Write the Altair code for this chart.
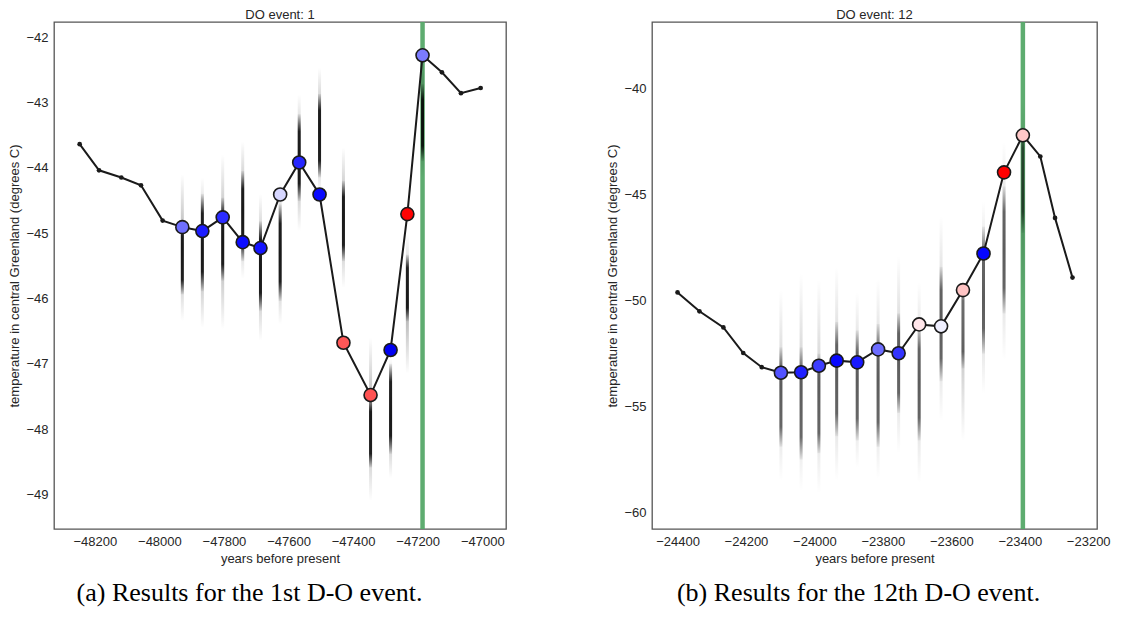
import altair as alt
import pandas as pd

# ---------------- Panel (a): DO event 1 ----------------
years_a = [-48247, -48187, -48118, -48057, -47990, -47929, -47867, -47804, -47742, -47687,
           -47626, -47567, -47504, -47430, -47346, -47284, -47232, -47185, -47125, -47066, -47005]
temps_a = [-43.64, -44.04, -44.15, -44.27, -44.81, -44.91, -44.97, -44.76, -45.14, -45.23,
           -44.41, -43.92, -44.41, -46.68, -47.48, -46.79, -44.71, -42.28, -42.54, -42.86, -42.78]
colors_a = ["", "", "", "", "",
            "#6f6fff", "#1d1dff", "#2b2bff", "#0c0cff", "#1414ff", "#d6d6ff", "#2626ff",
            "#0a0aff", "#ff5757", "#ff5252", "#0000f2", "#ff0303", "#7b7bff",
            "", "", ""]
# posterior sample streaks: x, faint top, dark top, dark bottom, faint bottom
streak_x_a = [-47929, -47867, -47804, -47742, -47687, -47626, -47567, -47504, -47430,
              -47346, -47284, -47232, -47185]
streak_fh_a = [-44.10, -44.15, -43.80, -43.60, -44.40, -44.20, -42.88, -42.47, -43.69,
               -46.60, -46.91, -45.02, -42.30]
streak_dh_a = [-44.82, -44.40, -44.46, -44.05, -44.82, -44.56, -43.18, -42.87, -44.20,
               -47.52, -47.00, -45.33, -42.72]
streak_dl_a = [-45.94, -45.89, -45.73, -45.43, -46.19, -46.04, -44.51, -44.15, -45.43,
               -48.59, -48.38, -46.35, -43.90]
streak_fl_a = [-46.35, -46.45, -46.47, -45.70, -46.65, -46.40, -44.97, -44.40, -45.84,
               -49.10, -48.75, -47.15, -44.15]
event_x_a = [-47185]
xticks_a = [-48200, -48000, -47800, -47600, -47400, -47200, -47000]
yticks_a = [-49, -48, -47, -46, -45, -44, -43, -42]
xdom_a = [-48311, -46942]
ydom_a = [-49.53, -41.77]

# ---------------- Panel (b): DO event 12 ----------------
years_b = [-24400, -24336, -24266, -24208, -24154, -24098, -24039, -23987, -23935, -23875,
           -23814, -23754, -23694, -23630, -23566, -23506, -23446, -23391, -23340, -23297, -23246]
temps_b = [-49.61, -50.50, -51.26, -52.47, -53.14, -53.40, -53.38, -53.07, -52.83, -52.91,
           -52.30, -52.48, -51.12, -51.21, -49.50, -47.77, -43.94, -42.19, -43.19, -46.09, -48.91]
colors_b = ["", "", "", "", "",
            "#5252ff", "#2020ff", "#3d3dff", "#0808ff", "#1a1aff", "#6d6dff", "#3333ff",
            "#ffe6ea", "#efefff", "#ffc4c4", "#0505ff", "#ff0000", "#ffc8c8",
            "", "", ""]
streak_x_b = [-24098, -24039, -23987, -23935, -23875, -23814, -23754, -23694, -23630,
              -23566, -23506, -23446, -23391]
streak_fh_b = [-49.5, -48.7, -49.0, -48.4, -49.6, -49.0, -47.9, -49.1, -46.0, -49.0, -45.3, -42.5, -40.6]
streak_dh_b = [-52.2, -52.2, -52.5, -51.0, -51.4, -51.1, -50.6, -51.2, -48.4, -49.2, -46.5, -44.6, -41.8]
streak_dl_b = [-56.9, -57.5, -57.2, -56.4, -56.6, -56.9, -55.3, -56.6, -53.8, -53.2, -52.5, -50.6, -46.8]
streak_fl_b = [-58.5, -59.0, -59.1, -58.5, -57.9, -58.4, -57.2, -58.6, -55.7, -56.6, -54.4, -52.8, -50.0]
event_x_b = [-23391]
xticks_b = [-24400, -24200, -24000, -23800, -23600, -23400, -23200]
yticks_b = [-60, -55, -50, -45, -40]
xdom_b = [-24460, -23189]
ydom_b = [-60.78, -36.84]

titles = ["DO event: 1", "DO event: 12"]
captions = ["(a) Results for the 1st D-O event.", "(b) Results for the 12th D-O event."]

FONT = "Liberation Sans"
TXT = "#262626"
LINE = "#1a1a1a"
MINUS = "replace(datum.label, '-', '\u2212')"


def grad(stops):
    return alt.LinearGradient(
        gradient="linear", x1=0, x2=0, y1=0, y2=1,
        stops=[alt.GradientStop(offset=o, color=c) for o, c in stops])


def panel(years, temps, colors, sx, sfh, sdh, sdl, sfl, ev, xticks, yticks, xdom, ydom,
          width, height, title, caption, faint_a, dark_a, cap_dx):
    pts = pd.DataFrame({"year": years, "temp": temps, "color": colors})
    st = pd.DataFrame({"year": sx, "fh": sfh, "dh": sdh, "dl": sdl, "fl": sfl})
    evd = pd.DataFrame({"year": ev})
    ttl = pd.DataFrame({"t": [title]})

    xs = alt.Scale(domain=xdom, nice=False, zero=False)
    ys = alt.Scale(domain=ydom, nice=False, zero=False)
    xax = alt.Axis(values=xticks, format="d", labelExpr=MINUS, title="years before present")
    yax = alt.Axis(values=yticks, format="d", labelExpr=MINUS,
                   title="temperature in central Greenland (degrees C)")

    base_x = alt.X("year:Q", scale=xs, axis=xax)
    green = alt.Chart(evd).mark_rule(color="#55a868", strokeWidth=4.5, opacity=0.95).encode(x=base_x)

    faint = alt.Chart(st).mark_bar(
        size=3,
        color=grad([(0, "rgba(0,0,0,0)"), (0.5, f"rgba(0,0,0,{faint_a})"), (1, "rgba(0,0,0,0)")]),
    ).encode(x=base_x, y=alt.Y("fh:Q", scale=ys, axis=yax), y2="fl:Q")
    dark = alt.Chart(st).mark_bar(
        size=3,
        color=grad([(0, "rgba(0,0,0,0.05)"), (0.2, f"rgba(0,0,0,{dark_a})"),
                    (0.8, f"rgba(0,0,0,{dark_a})"), (1, "rgba(0,0,0,0.05)")]),
    ).encode(x=base_x, y=alt.Y("dh:Q", scale=ys, axis=yax), y2="dl:Q")

    line = alt.Chart(pts).mark_line(color=LINE, strokeWidth=2).encode(
        x=base_x, y=alt.Y("temp:Q", scale=ys, axis=yax))
    dots = alt.Chart(pts).transform_filter("datum.color == ''").mark_circle(
        size=22, color=LINE, opacity=1).encode(x=base_x, y=alt.Y("temp:Q", scale=ys, axis=yax))
    circ = alt.Chart(pts).transform_filter("datum.color != ''").mark_circle(
        size=170, stroke=LINE, strokeWidth=1.6, opacity=1).encode(
        x=base_x, y=alt.Y("temp:Q", scale=ys, axis=yax),
        fill=alt.Fill("color:N", scale=None))
    head = alt.Chart(ttl).mark_text(font=FONT, fontSize=13, color=TXT, baseline="middle").encode(
        x=alt.value(width / 2), y=alt.value(-7), text="t:N")

    return alt.layer(green, faint, dark, line, dots, circ, head).properties(
        width=width, height=height,
        title=alt.TitleParams(caption, orient="bottom", anchor="middle", frame="bounds",
                              font="Liberation Serif", fontSize=26, fontWeight="normal",
                              color="black", offset=15, dx=cap_dx),
    )


left = panel(years_a, temps_a, colors_a, streak_x_a, streak_fh_a, streak_dh_a, streak_dl_a,
             streak_fl_a, event_x_a, xticks_a, yticks_a, xdom_a, ydom_a, 452, 507,
             titles[0], captions[0], 0.35, 0.85, -8)
right = panel(years_b, temps_b, colors_b, streak_x_b, streak_fh_b, streak_dh_b, streak_dl_b,
              streak_fl_b, event_x_b, xticks_b, yticks_b, xdom_b, ydom_b, 445, 507,
              titles[1], captions[1], 0.2, 0.55, 0)

chart = alt.hconcat(left, right, spacing=99).resolve_scale(x="independent", y="independent").properties(
    padding={"left": 0, "top": 0, "right": 5, "bottom": 0},
    background="white",
).configure_view(
    stroke="#555555", strokeWidth=1.3
).configure_axis(
    domain=False, ticks=False, grid=False,
    labelFont=FONT, labelFontSize=13, labelColor=TXT, labelPadding=6,
    titleFont=FONT, titleFontSize=13, titleFontWeight="normal", titleColor=TXT, titlePadding=4,
)

chart.save("out.html", embed_options={"renderer": "svg", "actions": False})
